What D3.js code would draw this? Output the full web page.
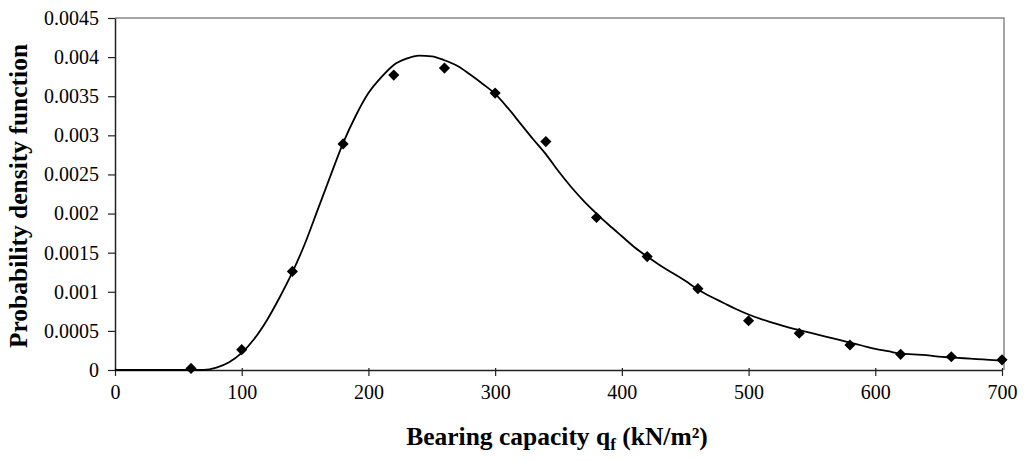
<!DOCTYPE html>
<html>
<head>
<meta charset="utf-8">
<script src="https://cdn.jsdelivr.net/npm/d3@7/dist/d3.min.js"></script>
<style>
  html, body { margin: 0; padding: 0; background: #fff; }
  svg { display: block; }
  text { font-family: "Liberation Serif", "Times New Roman", serif; fill: #000; }
</style>
</head>
<body>
<svg id="chart" width="1026" height="461"></svg>
<script>
// Observed (simulated) points
const pointX = [60, 100, 140, 180, 220, 260, 300, 340, 380, 420, 460, 500, 540, 580, 620, 660, 700];
const pointY = [0.00002, 0.00026, 0.00126, 0.00289, 0.00377, 0.00386, 0.00354, 0.00292, 0.00195, 0.00145, 0.00104, 0.00063, 0.00047, 0.00032, 0.0002, 0.00017, 0.00013];

// Fitted curve
const curveX = [0, 20, 40, 60, 70, 80, 90, 100, 110, 120, 130, 140, 150, 160, 170, 180, 190, 200, 210, 220, 230, 240, 250, 260, 270, 280, 290, 300, 310, 320, 330, 340, 350, 360, 370, 380, 390, 400, 410, 420, 430, 440, 450, 460, 470, 480, 490, 500, 510, 520, 530, 540, 550, 560, 570, 580, 590, 600, 610, 620, 630, 640, 650, 660, 670, 680, 690, 700];
const curveY = [0, 0, 0, 0, 0, 0.00003, 0.0001, 0.00022, 0.0004, 0.00064, 0.00093, 0.00125, 0.00162, 0.00205, 0.00248, 0.0029, 0.00325, 0.00354, 0.00374, 0.0039, 0.00398, 0.00402, 0.00401, 0.00396, 0.00389, 0.00378, 0.00366, 0.00353, 0.00335, 0.00315, 0.00295, 0.00276, 0.00254, 0.00234, 0.00216, 0.002, 0.00185, 0.00171, 0.00157, 0.00145, 0.00134, 0.00124, 0.00114, 0.00103, 0.00094, 0.00086, 0.00078, 0.00071, 0.00065, 0.0006, 0.00055, 0.00051, 0.00047, 0.00043, 0.00039, 0.00035, 0.00031, 0.00027, 0.00024, 0.00021, 0.0002, 0.00019, 0.00017, 0.00016, 0.00015, 0.00014, 0.00013, 0.00012];

const xTicks = [0, 100, 200, 300, 400, 500, 600, 700];
const yTicks = [0, 0.0005, 0.001, 0.0015, 0.002, 0.0025, 0.003, 0.0035, 0.004, 0.0045];
const yTickLabels = ["0", "0.0005", "0.001", "0.0015", "0.002", "0.0025", "0.003", "0.0035", "0.004", "0.0045"];

const svg = d3.select("#chart");
const mLeft = 115, mRight = 1002, mTop = 18, mBottom = 370;

const x = d3.scaleLinear().domain([0, 700]).range([mLeft, mRight]);
const y = d3.scaleLinear().domain([0, 0.0045]).range([mBottom, mTop]);

// plot frame (top/right gray)
svg.append("path")
  .attr("d", `M${mLeft},${mTop}H${mRight + 2}V${mBottom}`)
  .attr("fill", "none").attr("stroke", "#888").attr("stroke-width", 1.5);

// y axis
const yAxis = d3.axisLeft(y).tickValues(yTicks)
  .tickFormat((d, i) => yTickLabels[i]).tickSize(7).tickPadding(9).tickSizeOuter(0);
const gy = svg.append("g").attr("transform", `translate(${mLeft},0)`).call(yAxis);
gy.select(".domain").attr("stroke", "#222").attr("stroke-width", 1.5);
gy.selectAll(".tick line").attr("stroke", "#222").attr("stroke-width", 1.2);
gy.selectAll(".tick text").style("font-size", "20px").attr("fill", "#000")
  .style("font-family", "'Liberation Serif', serif");

// x axis
const xAxis = d3.axisBottom(x).tickValues(xTicks).tickFormat(d3.format("d"))
  .tickSize(6).tickPadding(9).tickSizeOuter(0);
const gx = svg.append("g").attr("transform", `translate(0,${mBottom})`).call(xAxis);
gx.select(".domain").attr("stroke", "#222").attr("stroke-width", 1.5);
gx.selectAll(".tick line").attr("stroke", "#222").attr("stroke-width", 1.2).attr("y1", -2);
gx.selectAll(".tick text").style("font-size", "20px").attr("fill", "#000")
  .style("font-family", "'Liberation Serif', serif");

// curve
const line = d3.line().x((d, i) => x(curveX[i])).y(d => y(d)).curve(d3.curveMonotoneX);
svg.append("path").datum(curveY)
  .attr("d", line).attr("fill", "none").attr("stroke", "#000").attr("stroke-width", 1.8);

// markers
const sym = d3.symbol().type(d3.symbolSquare).size(62);
svg.append("g").selectAll("path").data(pointY).join("path")
  .attr("d", sym)
  .attr("transform", (d, i) => `translate(${x(pointX[i])},${y(d)}) rotate(45)`)
  .attr("fill", "#000");

// axis titles
svg.append("text")
  .attr("transform", `translate(27,${(mTop + mBottom) / 2 + 2}) rotate(-90)`)
  .attr("text-anchor", "middle")
  .style("font-size", "25.5px").style("font-weight", "bold")
  .text("Probability density function");

const xt = svg.append("text")
  .attr("x", 557).attr("y", 445)
  .attr("text-anchor", "middle")
  .style("font-size", "25.5px").style("font-weight", "bold");
xt.append("tspan").text("Bearing capacity q");
xt.append("tspan").text("f").attr("dy", 5).style("font-size", "17px");
xt.append("tspan").text(" (kN/m²)").attr("dy", -5);
</script>
</body>
</html>
